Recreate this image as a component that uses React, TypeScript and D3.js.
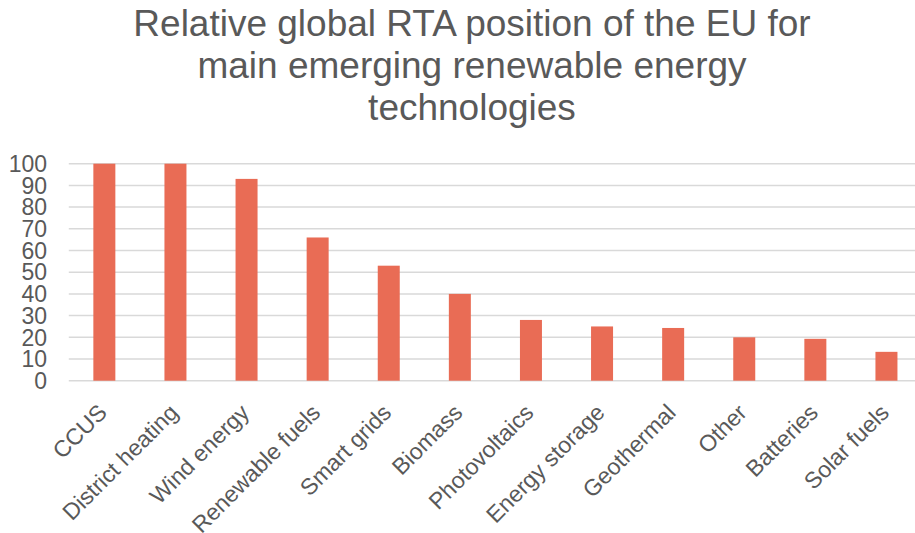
import React from "react";
import * as d3 from "d3";

const categories = [
  "CCUS",
  "District heating",
  "Wind energy",
  "Renewable fuels",
  "Smart grids",
  "Biomass",
  "Photovoltaics",
  "Energy storage",
  "Geothermal",
  "Other",
  "Batteries",
  "Solar fuels",
];
const values = [100, 100, 93, 66, 53, 40, 28, 25, 24.3, 20, 19.3, 13.3];
const yTicks = [0, 10, 20, 30, 40, 50, 60, 70, 80, 90, 100];
const titleLines = [
  "Relative global RTA position of the EU for",
  "main emerging renewable energy",
  "technologies",
];

const W = 915;
const H = 533;
const FONT = "'Liberation Sans', Arial, sans-serif";
const TEXT = "#595959";

export default function App() {
  const left = 68.8;
  const right = left + 71.1 * categories.length;
  const x = d3.scaleBand<string>().domain(categories).range([left, right]).paddingInner(0.69).paddingOuter(0.345);
  const y = d3.scaleLinear().domain([0, 100]).range([380.7, 163.7]);
  const bw = 22;
  return (
    <div style={{ position: "fixed", left: 0, top: 0 }}>
      <svg width={W} height={H} style={{ display: "block", background: "#fff" }}>
        <g fontFamily={FONT} fill={TEXT} textAnchor="middle" fontSize={37}>
          {titleLines.map((t, i) => (
            <text key={i} x={472} y={36 + i * 42}>
              {t}
            </text>
          ))}
        </g>
        <g>
          {yTicks.map((t) => (
            <line key={t} x1={left} x2={W} y1={y(t)} y2={y(t)} stroke="#D9D9D9" strokeWidth={1.5} />
          ))}
        </g>
        <g fontFamily={FONT} fill={TEXT} fontSize={23} textAnchor="end">
          {yTicks.map((t) => (
            <text key={t} x={47} y={y(t)} dy="0.36em">
              {t}
            </text>
          ))}
        </g>
        <g>
          {categories.map((c, i) => {
            const cx = (x(c) as number) + x.bandwidth() / 2;
            return (
              <rect key={c} x={cx - bw / 2} y={y(values[i])} width={bw} height={y(0) - y(values[i])} fill="#E96C55" />
            );
          })}
        </g>
        <g fontFamily={FONT} fill={TEXT} fontSize={23} textAnchor="end">
          {categories.map((c) => {
            const cx = (x(c) as number) + x.bandwidth() / 2;
            return (
              <text key={c} transform={`translate(${cx + 4},${414}) rotate(-45)`}>
                {c}
              </text>
            );
          })}
        </g>
      </svg>
    </div>
  );
}
